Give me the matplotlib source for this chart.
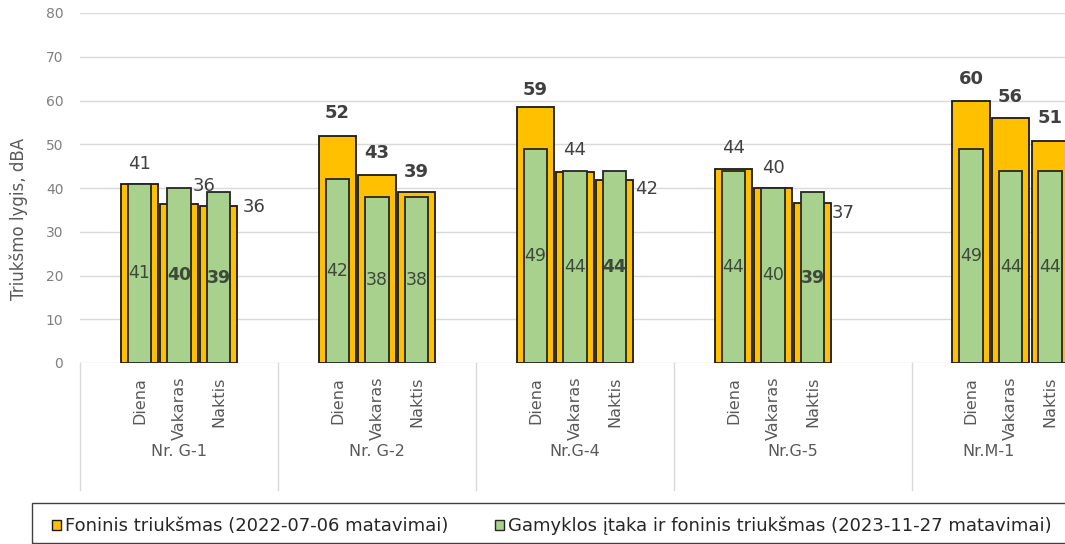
import numpy as np
import matplotlib.pyplot as plt
from matplotlib.patches import Patch, Rectangle
from matplotlib.transforms import blended_transform_factory

# Data
groups = ["Nr. G-1", "Nr. G-2", "Nr.G-4", "Nr.G-5", "Nr.M-1"]
periods = ["Diena", "Vakaras", "Naktis"]
# number of category slots each group takes on the axis (G-5 has one extra empty slot)
group_slots = [5, 5, 5, 6, 5]

background = [[41, 36.4, 36.0],
              [52, 43, 39],
              [58.6, 43.6, 41.8],
              [44.3, 40, 36.6],
              [60, 56, 50.7]]
plant = [[41, 40, 39],
         [42, 38, 38],
         [49, 44, 44],
         [43.8, 40, 39],
         [49, 44, 44]]

bg_label = "Foninis triukšmas (2022-07-06 matavimai)"
pl_label = "Gamyklos įtaka ir foninis triukšmas (2023-11-27 matavimai)"

# label styling (bold or not, offsets in pixels)
bg_bold = [[0, 0, 0], [1, 1, 1], [1, 0, 0], [0, 0, 0], [1, 1, 1]]
pl_bold = [[0, 1, 1], [0, 0, 0], [0, 0, 1], [0, 0, 1], [0, 0, 0]]
bg_offset = [[(0, 20), (25, 18), (36, -2)],
             [(0, 22), (0, 22), (0, 20)],
             [(0, 17), (0, 22), (32, -9)],
             [(0, 21), (0, 20), (31, -10)],
             [(0, 21), (0, 21), (0, 23)]]

ORANGE = "#FFC000"
GREEN = "#A9D18E"
GRID = "#d9d9d9"

fig = plt.figure(figsize=(10.65, 5.44), dpi=100)
ax = fig.add_axes([80 / 1065, 181 / 544, 985 / 1065, 350 / 544])
xmax = 985 / 39.6

starts = np.concatenate([[0], np.cumsum(group_slots)[:-1]])
trans = blended_transform_factory(ax.transData, ax.transAxes)

for gi, g in enumerate(groups):
    xs = starts[gi] + 1.5 + np.arange(len(periods))
    ax.bar(xs, background[gi], width=0.94, color=ORANGE, edgecolor="#1a1a1a",
           linewidth=1.3, zorder=2)
    ax.bar(xs, plant[gi], width=0.6, color=GREEN, edgecolor="#262626",
           linewidth=1.3, zorder=3)
    for j, x in enumerate(xs):
        v = background[gi][j]
        dx, dy = bg_offset[gi][j]
        ax.annotate(f"{v:.0f}", (x, v), xytext=(dx, dy), textcoords="offset pixels",
                    ha="center", va="center", fontsize=13, color="#404040",
                    fontweight="bold" if bg_bold[gi][j] else "normal", zorder=5)
        pv = plant[gi][j]
        ax.text(x, pv / 2, f"{pv:.0f}", ha="center", va="center", fontsize=12.5,
                color="#3d4a38", fontweight="bold" if pl_bold[gi][j] else "normal",
                zorder=5)
        ax.text(x, -0.04, periods[j], transform=trans, rotation=90, ha="center",
                va="top", fontsize=11.5, color="#595959")
    # group separators and names
    ax.plot([starts[gi], starts[gi]], [0, -0.363], transform=trans, color=GRID,
            lw=1, clip_on=False)
    gx = (starts[gi] + min(starts[gi] + group_slots[gi], xmax)) / 2
    ax.text(gx, -0.252, g, transform=trans, ha="center", va="center",
            fontsize=11.5, color="#595959")

ax.set_xlim(0, xmax)
ax.set_ylim(0, 80)
ax.set_yticks(range(0, 81, 10))
ax.set_xticks([])
ax.yaxis.grid(True, color=GRID, lw=1)
ax.set_axisbelow(True)
for s in ax.spines.values():
    s.set_visible(False)
ax.tick_params(axis="y", length=0, labelsize=10, labelcolor="#7f7f7f", pad=12)

fig.text(19 / 1065, 0.597, "Triukšmo lygis, dBA", rotation=90, ha="center",
         va="center", fontsize=12, color="#595959")

# legend with its own frame
fig.patches.append(Rectangle((32 / 1065, 1.5 / 544), 1.0, 40 / 544,
                             transform=fig.transFigure, fill=False,
                             edgecolor="#404040", lw=1))
handles = [Patch(facecolor=ORANGE, edgecolor="#1a1a1a", label=bg_label),
           Patch(facecolor=GREEN, edgecolor="#262626", label=pl_label)]
fig.legend(handles=handles, loc="center left", bbox_to_anchor=(52 / 1065, 18 / 544),
           ncol=2, frameon=False, fontsize=13, handlelength=0.5, handleheight=0.5,
           handletextpad=0.2, columnspacing=2.6, labelcolor="#262626",
           borderaxespad=0, borderpad=0)

fig.savefig("out.png", dpi=100)
